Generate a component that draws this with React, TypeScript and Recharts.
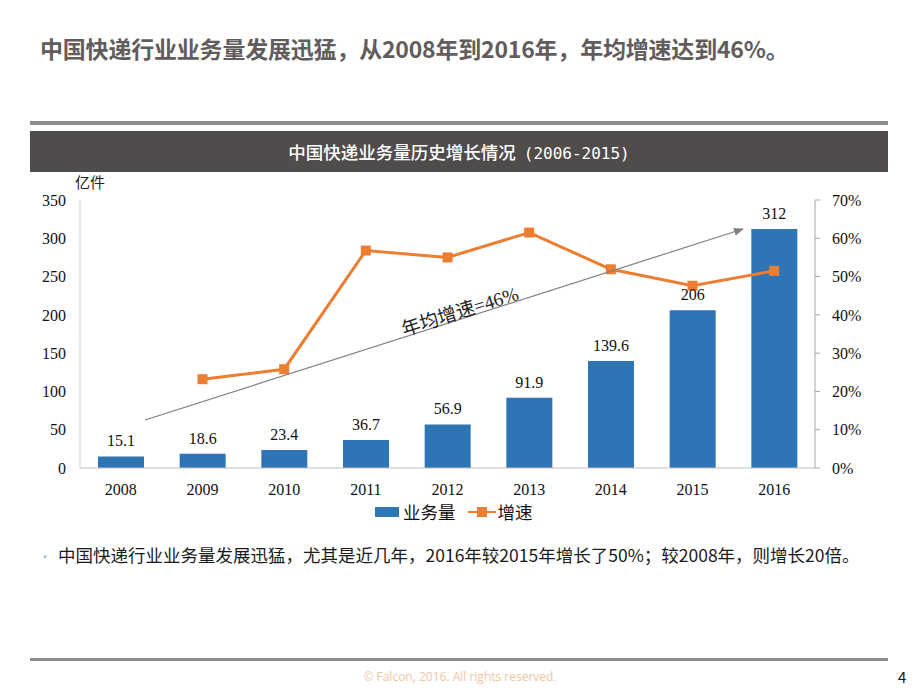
import { ComposedChart, Bar, Line, XAxis, YAxis, LabelList } from 'recharts';

const years = ['2008', '2009', '2010', '2011', '2012', '2013', '2014', '2015', '2016'];
const volume = [15.1, 18.6, 23.4, 36.7, 56.9, 91.9, 139.6, 206, 312];
const growth = [null, 23.2, 25.8, 56.8, 55.0, 61.5, 51.9, 47.6, 51.5];
const volumeTicks = [0, 50, 100, 150, 200, 250, 300, 350];
const growthTicks = [0, 10, 20, 30, 40, 50, 60, 70];

const data = years.map((year, i) => ({ year, volume: volume[i], growth: growth[i] }));

const BLUE = '#2E75B6';
const ORANGE = '#ED7D31';
const SERIF = '"Liberation Serif", "Noto Sans CJK SC", serif';
const CJK = '"Noto Sans CJK SC", "Noto Sans", sans-serif';

const SquareDot = (props: any) => {
  const { cx, cy, index } = props;
  if (cx == null || cy == null || props.value == null) return <g key={index} />;
  return <rect key={index} x={cx - 5} y={cy - 5} width={10} height={10} fill={ORANGE} />;
};

export default function App() {
  return (
    <div style={{ position: 'absolute', left: 0, top: 0, width: 920, height: 690, background: '#fff', overflow: 'hidden', fontFamily: CJK }}>
      <div style={{ position: 'absolute', left: 40, top: 32, fontSize: 23, fontWeight: 700, color: '#625c5c', whiteSpace: 'nowrap', lineHeight: '32px', letterSpacing: -0.2 }}>
        中国快递行业业务量发展迅猛，从2008年到2016年，年均增速达到46%。
      </div>
      <div style={{ position: 'absolute', left: 30, top: 121, width: 858, height: 4, background: '#8c8c8c' }} />
      <div style={{ position: 'absolute', left: 30, top: 131, width: 858, height: 41, background: '#504c4c', color: '#fff', fontSize: 17.5, fontWeight: 500, textAlign: 'center', lineHeight: '41px', whiteSpace: 'nowrap' }}>
        中国快递业务量历史增长情况<span style={{ fontFamily: '"DejaVu Sans Mono", monospace', fontSize: 16, marginLeft: 8 }}>(2006-2015)</span>
      </div>
      <div style={{ position: 'absolute', left: 75, top: 172, fontSize: 15, color: '#222', lineHeight: '20px' }}>亿件</div>

      <div style={{ position: 'absolute', left: 0, top: 0 }}>
        <ComposedChart width={920} height={690} data={data} margin={{ top: 200, right: 55, left: 30, bottom: 192 }}>
          <XAxis
            dataKey="year"
            height={30}
            axisLine={{ stroke: '#bfbfbf' }}
            tickLine={false}
            tickSize={6}
            tickMargin={10}
            tick={{ fill: '#111', fontSize: 16, fontFamily: SERIF }}
          />
          <YAxis
            yAxisId="left"
            width={50}
            domain={[0, 350]}
            ticks={volumeTicks}
            axisLine={{ stroke: '#cfcfcf' }}
            tickLine={false}
            tickSize={6}
            tickMargin={8}
            tick={{ fill: '#111', fontSize: 16, fontFamily: SERIF }}
          />
          <YAxis
            yAxisId="right"
            orientation="right"
            width={50}
            domain={[0, 70]}
            ticks={growthTicks}
            tickFormatter={(v: number) => `${v}%`}
            axisLine={{ stroke: '#a6a6a6' }}
            tickLine={{ stroke: '#a6a6a6' }}
            tickSize={5}
            tickMargin={12}
            tick={{ fill: '#111', fontSize: 16, fontFamily: SERIF }}
          />
          <Bar yAxisId="left" dataKey="volume" fill={BLUE} barSize={46} isAnimationActive={false}>
            <LabelList dataKey="volume" position="top" offset={10} fill="#111" fontSize={16} fontFamily={SERIF} />
          </Bar>
          <Line
            yAxisId="right"
            type="linear"
            dataKey="growth"
            stroke={ORANGE}
            strokeWidth={3}
            dot={SquareDot}
            isAnimationActive={false}
          />
        </ComposedChart>
      </div>

      <svg style={{ position: 'absolute', left: 0, top: 0 }} width={920} height={690}>
        <defs>
          <marker id="arr" markerWidth="10" markerHeight="8" refX="9" refY="4" orient="auto" markerUnits="userSpaceOnUse">
            <path d="M0,0 L10,4 L0,8 z" fill="#808080" />
          </marker>
        </defs>
        <line x1={145} y1={420} x2={743} y2={229} stroke="#808080" strokeWidth={1.2} markerEnd="url(#arr)" />
        <text x={460} y={318} textAnchor="middle" fontSize={19} fontFamily={SERIF} fill="#222" transform="rotate(-17.7 460 312)">
          年均增速=46%
        </text>
      </svg>

      <div style={{ position: 'absolute', left: 375, top: 500, display: 'flex', alignItems: 'center', fontSize: 17.5, color: '#111', lineHeight: '24px', whiteSpace: 'nowrap' }}>
        <span style={{ display: 'inline-block', width: 24, height: 10, background: BLUE, marginRight: 4 }} />
        <span>业务量</span>
        <svg width={28} height={14} style={{ marginLeft: 12 }}>
          <line x1={0} y1={7} x2={28} y2={7} stroke={ORANGE} strokeWidth={2} />
          <rect x={9} y={2} width={10} height={10} fill={ORANGE} />
        </svg>
        <span style={{ marginLeft: 2 }}>增速</span>
      </div>

      <div style={{ position: 'absolute', left: 39, top: 543, fontSize: 17.5, color: '#1a1a1a', whiteSpace: 'nowrap', lineHeight: '24px' }}>
        <span style={{ color: '#7fb2d6', fontSize: 12, marginRight: 7, verticalAlign: 'middle' }}>•</span>
        中国快递行业业务量发展迅猛，尤其是近几年，2016年较2015年增长了50%；较2008年，则增长20倍。
      </div>

      <div style={{ position: 'absolute', left: 30, top: 658, width: 858, height: 3, background: '#8c8c8c' }} />
      <div style={{ position: 'absolute', left: 0, top: 668, width: 920, textAlign: 'center', fontSize: 12, color: '#f2c4a6', lineHeight: '18px', fontFamily: '"Open Sans", sans-serif' }}>
        © Falcon, 2016. All rights reserved.
      </div>
      <div style={{ position: 'absolute', left: 898, top: 667, fontSize: 15, color: '#111', lineHeight: '20px' }}>4</div>
    </div>
  );
}
